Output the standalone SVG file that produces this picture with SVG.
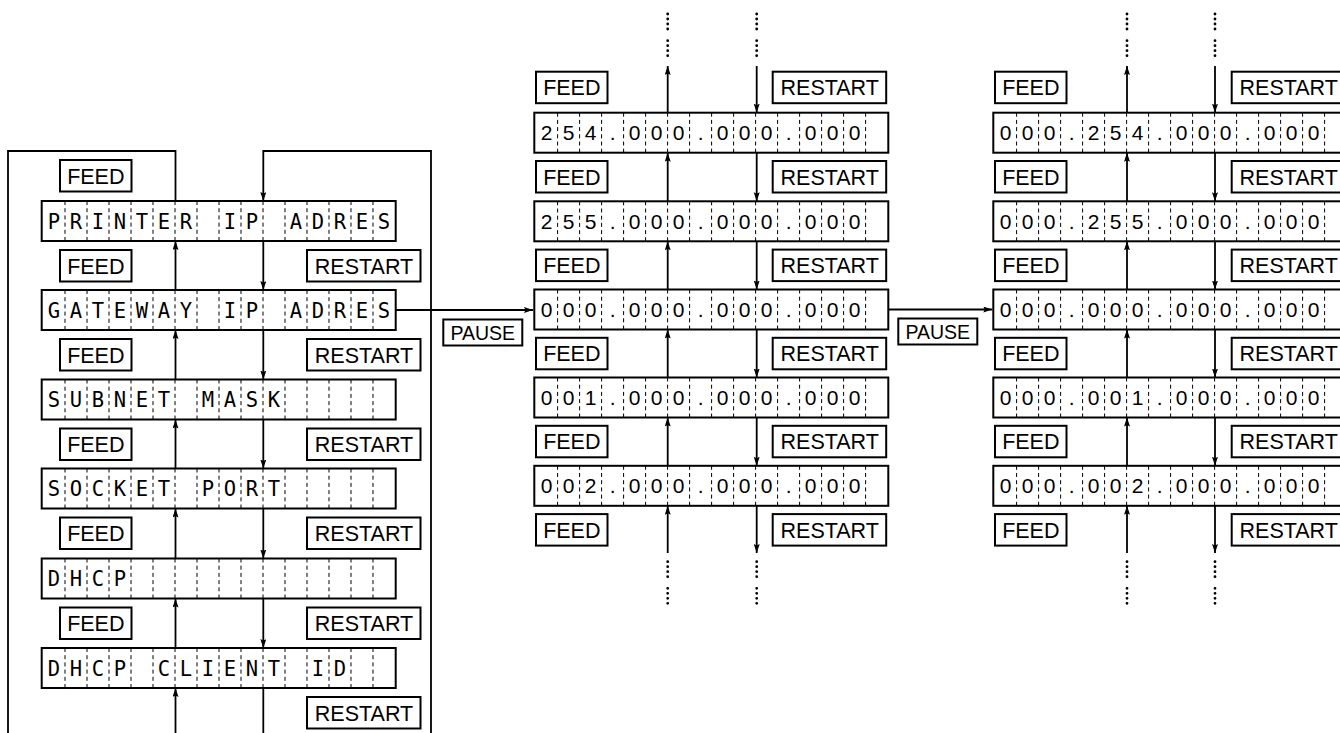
<svg xmlns="http://www.w3.org/2000/svg" xmlns:xlink="http://www.w3.org/1999/xlink" width="1340" height="733" viewBox="0 0 1340 733">
<style>
.bg{fill:#fff}
.box{fill:#fff;stroke:#000;stroke-width:2}
.div{fill:none;stroke:#000;stroke-width:1;stroke-dasharray:4 3.2}
.btn{fill:#fff;stroke:#000;stroke-width:2}
.btxt{font-family:"Liberation Sans",Arial,sans-serif;font-size:21.5px;fill:#000;text-anchor:middle}
.ptxt{font-family:"Liberation Sans",Arial,sans-serif;font-size:19.5px;fill:#000;text-anchor:middle}
.lcd{font-family:"DejaVu Sans Mono","Liberation Mono",monospace;font-size:20.5px;fill:#000;text-anchor:middle}
.num{font-family:"Liberation Sans",Arial,sans-serif;font-size:21px;fill:#000;text-anchor:middle}
.ln{fill:none;stroke:#000;stroke-width:1.8}
.arr{fill:none;stroke:#000;stroke-width:1.8;marker-end:url(#ah)}
.dots{fill:none;stroke:#000;stroke-width:2.8;stroke-linecap:round;stroke-dasharray:0 5}
</style>
<defs>
<marker id="ah" markerUnits="userSpaceOnUse" markerWidth="10" markerHeight="8" refX="9" refY="3" orient="auto">
<path d="M0,0 L9,3 L0,6 L1.5,3 z" fill="#000"/>
</marker>
<g id="lcd">
<rect class="box" x="0" y="0" width="354" height="40"/>
<path class="div" d="M23.3,0V40M45.3,0V40M67.3,0V40M89.3,0V40M111.3,0V40M133.3,0V40M155.3,0V40M177.3,0V40M199.3,0V40M221.3,0V40M243.3,0V40M265.3,0V40M287.3,0V40M309.3,0V40M331.3,0V40"/>
</g>
<rect id="feed" class="btn" x="0" y="0" width="71.5" height="31.5"/>
<rect id="restart" class="btn" x="0" y="0" width="113.5" height="31.5"/>
<rect id="pause" class="btn" x="0" y="0" width="79" height="26"/>
</defs>
<rect class="bg" x="0" y="0" width="1340" height="733"/>

<g id="connectors">
<path class="ln" d="M8,733V151H175.5V201"/>
<path class="arr" d="M431,733V151H263.3V201"/>
<path class="arr" d="M175.5,290V241"/>
<path class="arr" d="M175.5,379.5V330"/>
<path class="arr" d="M175.5,468.5V419.5"/>
<path class="arr" d="M175.5,558.5V508.5"/>
<path class="arr" d="M175.5,648V598.5"/>
<path class="arr" d="M175.5,733V688"/>
<path class="arr" d="M263.3,241V290"/>
<path class="arr" d="M263.3,330V379.5"/>
<path class="arr" d="M263.3,419.5V468.5"/>
<path class="arr" d="M263.3,508.5V558.5"/>
<path class="arr" d="M263.3,598.5V648"/>
<path class="ln" d="M263.3,688V733"/>
<path class="arr" d="M395.7,310H533"/>
<path class="arr" d="M888.3,309.5H992.3"/>
<!-- middle column -->
<path class="arr" d="M667.7,112.7V66"/>
<path class="arr" d="M667.7,201.3V152.7"/>
<path class="arr" d="M667.7,289.5V241.3"/>
<path class="arr" d="M667.7,377.5V329.5"/>
<path class="arr" d="M667.7,465.8V417.5"/>
<path class="arr" d="M667.7,553V505.8"/>
<path class="arr" d="M756.7,66V112.7"/>
<path class="arr" d="M756.7,152.7V201.3"/>
<path class="arr" d="M756.7,241.3V289.5"/>
<path class="arr" d="M756.7,329.5V377.5"/>
<path class="arr" d="M756.7,417.5V465.8"/>
<path class="arr" d="M756.7,505.8V553"/>
<!-- right column -->
<path class="arr" d="M1127,112.7V66"/>
<path class="arr" d="M1127,201.3V152.7"/>
<path class="arr" d="M1127,289.5V241.3"/>
<path class="arr" d="M1127,377.5V329.5"/>
<path class="arr" d="M1127,465.8V417.5"/>
<path class="arr" d="M1127,553V505.8"/>
<path class="arr" d="M1215,66V112.7"/>
<path class="arr" d="M1215,152.7V201.3"/>
<path class="arr" d="M1215,241.3V289.5"/>
<path class="arr" d="M1215,329.5V377.5"/>
<path class="arr" d="M1215,417.5V465.8"/>
<path class="arr" d="M1215,505.8V553"/>
<!-- continuation dots -->
<path class="dots" d="M667.7,14V29.5M667.7,40.7V56M756.7,14V29.5M756.7,40.7V56M1127,14V29.5M1127,40.7V56M1215,14V29.5M1215,40.7V56"/>
<path class="dots" d="M667.7,561.7V577M667.7,588.3V603.5M756.7,561.7V577M756.7,588.3V603.5M1127,561.7V577M1127,588.3V603.5M1215,561.7V577M1215,588.3V603.5"/>
</g>

<g id="left-column">
<g id="n-printer-ip" transform="translate(41.7,201)"><use href="#lcd"/><text class="lcd" y="27.5" x="12.3 34.3 56.3 78.3 100.3 122.3 144.3 166.3 188.3 210.3 232.3 254.3 276.3 298.3 320.3 342.3">PRINTER IP ADRES</text></g>
<g id="n-gateway-ip" transform="translate(41.7,290)"><use href="#lcd"/><text class="lcd" y="27.5" x="12.3 34.3 56.3 78.3 100.3 122.3 144.3 166.3 188.3 210.3 232.3 254.3 276.3 298.3 320.3 342.3">GATEWAY IP ADRES</text></g>
<g id="n-subnet" transform="translate(41.7,379.5)"><use href="#lcd"/><text class="lcd" y="27.5" x="12.3 34.3 56.3 78.3 100.3 122.3 144.3 166.3 188.3 210.3 232.3">SUBNET MASK</text></g>
<g id="n-socket" transform="translate(41.7,468.5)"><use href="#lcd"/><text class="lcd" y="27.5" x="12.3 34.3 56.3 78.3 100.3 122.3 144.3 166.3 188.3 210.3 232.3">SOCKET PORT</text></g>
<g id="n-dhcp" transform="translate(41.7,558.5)"><use href="#lcd"/><text class="lcd" y="27.5" x="12.3 34.3 56.3 78.3">DHCP</text></g>
<g id="n-dhcp-client" transform="translate(41.7,648)"><use href="#lcd"/><text class="lcd" y="27.5" x="12.3 34.3 56.3 78.3 100.3 122.3 144.3 166.3 188.3 210.3 232.3 254.3 276.3 298.3">DHCP CLIENT ID</text></g>
</g>

<g id="middle-column">
<g id="n-m254" transform="translate(534.3,112.7)"><use href="#lcd"/><text class="num" y="27.5" x="12.3 34.3 56.3 78.3 100.3 122.3 144.3 166.3 188.3 210.3 232.3 254.3 276.3 298.3 320.3">254.000.000.000</text></g>
<g id="n-m255" transform="translate(534.3,201.3)"><use href="#lcd"/><text class="num" y="27.5" x="12.3 34.3 56.3 78.3 100.3 122.3 144.3 166.3 188.3 210.3 232.3 254.3 276.3 298.3 320.3">255.000.000.000</text></g>
<g id="n-m000" transform="translate(534.3,289.5)"><use href="#lcd"/><text class="num" y="27.5" x="12.3 34.3 56.3 78.3 100.3 122.3 144.3 166.3 188.3 210.3 232.3 254.3 276.3 298.3 320.3">000.000.000.000</text></g>
<g id="n-m001" transform="translate(534.3,377.5)"><use href="#lcd"/><text class="num" y="27.5" x="12.3 34.3 56.3 78.3 100.3 122.3 144.3 166.3 188.3 210.3 232.3 254.3 276.3 298.3 320.3">001.000.000.000</text></g>
<g id="n-m002" transform="translate(534.3,465.8)"><use href="#lcd"/><text class="num" y="27.5" x="12.3 34.3 56.3 78.3 100.3 122.3 144.3 166.3 188.3 210.3 232.3 254.3 276.3 298.3 320.3">002.000.000.000</text></g>
</g>

<g id="right-column">
<g id="n-r254" transform="translate(993.3,112.7)"><use href="#lcd"/><text class="num" y="27.5" x="12.3 34.3 56.3 78.3 100.3 122.3 144.3 166.3 188.3 210.3 232.3 254.3 276.3 298.3 320.3">000.254.000.000</text></g>
<g id="n-r255" transform="translate(993.3,201.3)"><use href="#lcd"/><text class="num" y="27.5" x="12.3 34.3 56.3 78.3 100.3 122.3 144.3 166.3 188.3 210.3 232.3 254.3 276.3 298.3 320.3">000.255.000.000</text></g>
<g id="n-r000" transform="translate(993.3,289.5)"><use href="#lcd"/><text class="num" y="27.5" x="12.3 34.3 56.3 78.3 100.3 122.3 144.3 166.3 188.3 210.3 232.3 254.3 276.3 298.3 320.3">000.000.000.000</text></g>
<g id="n-r001" transform="translate(993.3,377.5)"><use href="#lcd"/><text class="num" y="27.5" x="12.3 34.3 56.3 78.3 100.3 122.3 144.3 166.3 188.3 210.3 232.3 254.3 276.3 298.3 320.3">000.001.000.000</text></g>
<g id="n-r002" transform="translate(993.3,465.8)"><use href="#lcd"/><text class="num" y="27.5" x="12.3 34.3 56.3 78.3 100.3 122.3 144.3 166.3 188.3 210.3 232.3 254.3 276.3 298.3 320.3">000.002.000.000</text></g>
</g>

<g id="buttons">
<g id="lf0" transform="translate(60,160)"><use href="#feed"/><text class="btxt" x="35.8" y="23.5">FEED</text></g>
<g id="lf1" transform="translate(60,250)"><use href="#feed"/><text class="btxt" x="35.8" y="23.5">FEED</text></g>
<g id="lf2" transform="translate(60,339)"><use href="#feed"/><text class="btxt" x="35.8" y="23.5">FEED</text></g>
<g id="lf3" transform="translate(60,428.5)"><use href="#feed"/><text class="btxt" x="35.8" y="23.5">FEED</text></g>
<g id="lf4" transform="translate(60,517.5)"><use href="#feed"/><text class="btxt" x="35.8" y="23.5">FEED</text></g>
<g id="lf5" transform="translate(60,607.5)"><use href="#feed"/><text class="btxt" x="35.8" y="23.5">FEED</text></g>
<g id="lr1" transform="translate(307,250)"><use href="#restart"/><text class="btxt" x="57" y="23.5">RESTART</text></g>
<g id="lr2" transform="translate(307,339)"><use href="#restart"/><text class="btxt" x="57" y="23.5">RESTART</text></g>
<g id="lr3" transform="translate(307,428.5)"><use href="#restart"/><text class="btxt" x="57" y="23.5">RESTART</text></g>
<g id="lr4" transform="translate(307,517.5)"><use href="#restart"/><text class="btxt" x="57" y="23.5">RESTART</text></g>
<g id="lr5" transform="translate(307,607.5)"><use href="#restart"/><text class="btxt" x="57" y="23.5">RESTART</text></g>
<g id="lr6" transform="translate(307,697)"><use href="#restart"/><text class="btxt" x="57" y="23.5">RESTART</text></g>
<g id="mf0" transform="translate(536,71.7)"><use href="#feed"/><text class="btxt" x="35.8" y="23.5">FEED</text></g>
<g id="mf1" transform="translate(536,161)"><use href="#feed"/><text class="btxt" x="35.8" y="23.5">FEED</text></g>
<g id="mf2" transform="translate(536,249.6)"><use href="#feed"/><text class="btxt" x="35.8" y="23.5">FEED</text></g>
<g id="mf3" transform="translate(536,337.8)"><use href="#feed"/><text class="btxt" x="35.8" y="23.5">FEED</text></g>
<g id="mf4" transform="translate(536,425.8)"><use href="#feed"/><text class="btxt" x="35.8" y="23.5">FEED</text></g>
<g id="mf5" transform="translate(536,514.1)"><use href="#feed"/><text class="btxt" x="35.8" y="23.5">FEED</text></g>
<g id="mr0" transform="translate(772.7,71.7)"><use href="#restart"/><text class="btxt" x="57" y="23.5">RESTART</text></g>
<g id="mr1" transform="translate(772.7,161)"><use href="#restart"/><text class="btxt" x="57" y="23.5">RESTART</text></g>
<g id="mr2" transform="translate(772.7,249.6)"><use href="#restart"/><text class="btxt" x="57" y="23.5">RESTART</text></g>
<g id="mr3" transform="translate(772.7,337.8)"><use href="#restart"/><text class="btxt" x="57" y="23.5">RESTART</text></g>
<g id="mr4" transform="translate(772.7,425.8)"><use href="#restart"/><text class="btxt" x="57" y="23.5">RESTART</text></g>
<g id="mr5" transform="translate(772.7,514.1)"><use href="#restart"/><text class="btxt" x="57" y="23.5">RESTART</text></g>
<g id="rf0" transform="translate(995,71.7)"><use href="#feed"/><text class="btxt" x="35.8" y="23.5">FEED</text></g>
<g id="rf1" transform="translate(995,161)"><use href="#feed"/><text class="btxt" x="35.8" y="23.5">FEED</text></g>
<g id="rf2" transform="translate(995,249.6)"><use href="#feed"/><text class="btxt" x="35.8" y="23.5">FEED</text></g>
<g id="rf3" transform="translate(995,337.8)"><use href="#feed"/><text class="btxt" x="35.8" y="23.5">FEED</text></g>
<g id="rf4" transform="translate(995,425.8)"><use href="#feed"/><text class="btxt" x="35.8" y="23.5">FEED</text></g>
<g id="rf5" transform="translate(995,514.1)"><use href="#feed"/><text class="btxt" x="35.8" y="23.5">FEED</text></g>
<g id="rr0" transform="translate(1231.7,71.7)"><use href="#restart"/><text class="btxt" x="57" y="23.5">RESTART</text></g>
<g id="rr1" transform="translate(1231.7,161)"><use href="#restart"/><text class="btxt" x="57" y="23.5">RESTART</text></g>
<g id="rr2" transform="translate(1231.7,249.6)"><use href="#restart"/><text class="btxt" x="57" y="23.5">RESTART</text></g>
<g id="rr3" transform="translate(1231.7,337.8)"><use href="#restart"/><text class="btxt" x="57" y="23.5">RESTART</text></g>
<g id="rr4" transform="translate(1231.7,425.8)"><use href="#restart"/><text class="btxt" x="57" y="23.5">RESTART</text></g>
<g id="rr5" transform="translate(1231.7,514.1)"><use href="#restart"/><text class="btxt" x="57" y="23.5">RESTART</text></g>
<g id="p1" transform="translate(443.3,319.5)"><use href="#pause"/><text class="ptxt" x="39.5" y="20.5">PAUSE</text></g>
<g id="p2" transform="translate(898.3,318.5)"><use href="#pause"/><text class="ptxt" x="39.5" y="20.5">PAUSE</text></g>
</g>
</svg>
